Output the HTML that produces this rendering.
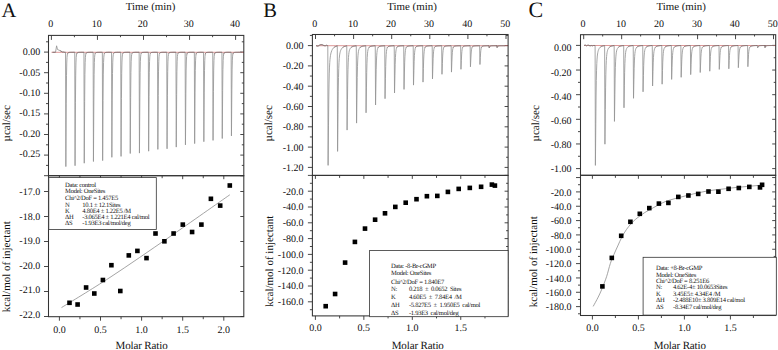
<!DOCTYPE html>
<html><head><meta charset="utf-8"><style>
html,body{margin:0;padding:0;background:#fff;}
svg{display:block;}
text{font-family:"Liberation Serif",serif;fill:#111;white-space:pre;stroke:none;text-rendering:geometricPrecision;}
</style></head><body>
<svg width="778" height="350" viewBox="0 0 778 350">
<rect width="778" height="350" fill="#fff"/>
<text x="1.4" y="17.1" font-size="20.5" text-anchor="start" >A</text>
<text x="150.6" y="9.6" font-size="10.9" text-anchor="middle" >Time (min)</text>
<line x1="51.4" y1="35.4" x2="51.4" y2="39.9" stroke="#333" stroke-width="0.9" />
<text x="50.7" y="27.2" font-size="10" text-anchor="middle" >0</text>
<line x1="74.42" y1="35.4" x2="74.42" y2="37.2" stroke="#333" stroke-width="0.9" />
<line x1="97.45" y1="35.4" x2="97.45" y2="39.9" stroke="#333" stroke-width="0.9" />
<text x="96.75" y="27.2" font-size="10" text-anchor="middle" >10</text>
<line x1="120.47" y1="35.4" x2="120.47" y2="37.2" stroke="#333" stroke-width="0.9" />
<line x1="143.5" y1="35.4" x2="143.5" y2="39.9" stroke="#333" stroke-width="0.9" />
<text x="142.8" y="27.2" font-size="10" text-anchor="middle" >20</text>
<line x1="166.53" y1="35.4" x2="166.53" y2="37.2" stroke="#333" stroke-width="0.9" />
<line x1="189.55" y1="35.4" x2="189.55" y2="39.9" stroke="#333" stroke-width="0.9" />
<text x="188.85" y="27.2" font-size="10" text-anchor="middle" >30</text>
<line x1="212.58" y1="35.4" x2="212.58" y2="37.2" stroke="#333" stroke-width="0.9" />
<line x1="235.6" y1="35.4" x2="235.6" y2="39.9" stroke="#333" stroke-width="0.9" />
<text x="234.9" y="27.2" font-size="10" text-anchor="middle" >40</text>
<line x1="44" y1="52.1" x2="48.5" y2="52.1" stroke="#333" stroke-width="0.9" />
<line x1="240.3" y1="52.1" x2="243.8" y2="52.1" stroke="#333" stroke-width="0.9" />
<text x="40.2" y="55.3" font-size="10" text-anchor="end" >0.00</text>
<line x1="44" y1="72.7" x2="48.5" y2="72.7" stroke="#333" stroke-width="0.9" />
<line x1="240.3" y1="72.7" x2="243.8" y2="72.7" stroke="#333" stroke-width="0.9" />
<text x="40.2" y="75.64" font-size="10" text-anchor="end" >-0.05</text>
<line x1="44" y1="93.3" x2="48.5" y2="93.3" stroke="#333" stroke-width="0.9" />
<line x1="240.3" y1="93.3" x2="243.8" y2="93.3" stroke="#333" stroke-width="0.9" />
<text x="40.2" y="95.98" font-size="10" text-anchor="end" >-0.10</text>
<line x1="44" y1="113.9" x2="48.5" y2="113.9" stroke="#333" stroke-width="0.9" />
<line x1="240.3" y1="113.9" x2="243.8" y2="113.9" stroke="#333" stroke-width="0.9" />
<text x="40.2" y="116.32" font-size="10" text-anchor="end" >-0.15</text>
<line x1="44" y1="134.5" x2="48.5" y2="134.5" stroke="#333" stroke-width="0.9" />
<line x1="240.3" y1="134.5" x2="243.8" y2="134.5" stroke="#333" stroke-width="0.9" />
<text x="40.2" y="136.66" font-size="10" text-anchor="end" >-0.20</text>
<line x1="44" y1="155.1" x2="48.5" y2="155.1" stroke="#333" stroke-width="0.9" />
<line x1="240.3" y1="155.1" x2="243.8" y2="155.1" stroke="#333" stroke-width="0.9" />
<text x="40.2" y="157" font-size="10" text-anchor="end" >-0.25</text>
<line x1="44" y1="175.7" x2="48.5" y2="175.7" stroke="#333" stroke-width="0.9" />
<line x1="240.3" y1="175.7" x2="243.8" y2="175.7" stroke="#333" stroke-width="0.9" />
<line x1="46" y1="41.8" x2="48.5" y2="41.8" stroke="#333" stroke-width="0.9" />
<line x1="241.8" y1="41.8" x2="243.8" y2="41.8" stroke="#333" stroke-width="0.9" />
<line x1="46" y1="62.4" x2="48.5" y2="62.4" stroke="#333" stroke-width="0.9" />
<line x1="241.8" y1="62.4" x2="243.8" y2="62.4" stroke="#333" stroke-width="0.9" />
<line x1="46" y1="83" x2="48.5" y2="83" stroke="#333" stroke-width="0.9" />
<line x1="241.8" y1="83" x2="243.8" y2="83" stroke="#333" stroke-width="0.9" />
<line x1="46" y1="103.6" x2="48.5" y2="103.6" stroke="#333" stroke-width="0.9" />
<line x1="241.8" y1="103.6" x2="243.8" y2="103.6" stroke="#333" stroke-width="0.9" />
<line x1="46" y1="124.2" x2="48.5" y2="124.2" stroke="#333" stroke-width="0.9" />
<line x1="241.8" y1="124.2" x2="243.8" y2="124.2" stroke="#333" stroke-width="0.9" />
<line x1="46" y1="144.8" x2="48.5" y2="144.8" stroke="#333" stroke-width="0.9" />
<line x1="241.8" y1="144.8" x2="243.8" y2="144.8" stroke="#333" stroke-width="0.9" />
<line x1="46" y1="165.4" x2="48.5" y2="165.4" stroke="#333" stroke-width="0.9" />
<line x1="241.8" y1="165.4" x2="243.8" y2="165.4" stroke="#333" stroke-width="0.9" />
<line x1="51.5" y1="52.3" x2="243.8" y2="52.3" stroke="#d06a6a" stroke-width="0.7" />
<path d="M52.5,52.3 L55.5,52.3 L56.6,45.8 L57.5,49.5 L60,50.6 L62.5,52 L63.7,52.04 L64.9,52.34 L65.55,52.3 L65.85,166.6 L66.25,103.15 L66.5,75.32 L66.75,63.02 L67,57.52 L67.25,55 L67.5,53.81 L67.75,53.22 L68,52.91 L68.25,52.72 L68.5,52.61 L68.75,52.53 L69,52.48 L69.6,52.39 L70.2,52.35 L70.8,52.33 L71.4,52.32 L72,52.31 L72.6,52.3 L73.2,52.3 L73.8,52.3 L74.75,52.3 L75.05,165.7 L75.45,102.75 L75.7,75.14 L75.95,62.94 L76.2,57.48 L76.45,54.98 L76.7,53.8 L76.95,53.21 L77.2,52.9 L77.45,52.72 L77.7,52.61 L77.95,52.53 L78.2,52.47 L78.8,52.39 L79.4,52.35 L80,52.33 L80.6,52.32 L81.2,52.31 L81.8,52.3 L82.4,52.3 L83,52.3 L83.95,52.3 L84.25,163.2 L84.65,101.64 L84.9,74.64 L85.15,62.7 L85.4,57.36 L85.65,54.92 L85.9,53.77 L86.15,53.19 L86.4,52.89 L86.65,52.71 L86.9,52.6 L87.15,52.52 L87.4,52.47 L88,52.39 L88.6,52.35 L89.2,52.33 L89.8,52.32 L90.4,52.31 L91,52.3 L91.6,52.3 L92.2,52.3 L93.15,52.3 L93.45,161.5 L93.85,100.89 L94.1,74.29 L94.35,62.54 L94.6,57.28 L94.85,54.88 L95.1,53.74 L95.35,53.18 L95.6,52.88 L95.85,52.7 L96.1,52.59 L96.35,52.52 L96.6,52.47 L97.2,52.39 L97.8,52.35 L98.4,52.33 L99,52.31 L99.6,52.31 L100.2,52.3 L100.8,52.3 L101.4,52.3 L102.35,52.3 L102.65,160.6 L103.05,100.49 L103.3,74.11 L103.55,62.46 L103.8,57.24 L104.05,54.86 L104.3,53.73 L104.55,53.17 L104.8,52.87 L105.05,52.7 L105.3,52.59 L105.55,52.52 L105.8,52.47 L106.4,52.39 L107,52.35 L107.6,52.33 L108.2,52.31 L108.8,52.31 L109.4,52.3 L110,52.3 L110.6,52.3 L111.55,52.3 L111.85,157.3 L112.25,99.02 L112.5,73.45 L112.75,62.15 L113,57.09 L113.25,54.78 L113.5,53.69 L113.75,53.15 L114,52.86 L114.25,52.69 L114.5,52.58 L114.75,52.51 L115,52.46 L115.6,52.39 L116.2,52.35 L116.8,52.33 L117.4,52.31 L118,52.31 L118.6,52.3 L119.2,52.3 L119.8,52.3 L120.75,52.3 L121.05,156.4 L121.45,98.62 L121.7,73.27 L121.95,62.06 L122.2,57.05 L122.45,54.76 L122.7,53.68 L122.95,53.14 L123.2,52.85 L123.45,52.69 L123.7,52.58 L123.95,52.51 L124.2,52.46 L124.8,52.39 L125.4,52.35 L126,52.33 L126.6,52.31 L127.2,52.31 L127.8,52.3 L128.4,52.3 L129,52.3 L129.95,52.3 L130.25,153.5 L130.65,97.33 L130.9,72.68 L131.15,61.79 L131.4,56.92 L131.65,54.69 L131.9,53.64 L132.15,53.12 L132.4,52.84 L132.65,52.67 L132.9,52.57 L133.15,52.5 L133.4,52.46 L134,52.38 L134.6,52.35 L135.2,52.32 L135.8,52.31 L136.4,52.31 L137,52.3 L137.6,52.3 L138.2,52.3 L139.15,52.3 L139.45,153.1 L139.85,97.15 L140.1,72.6 L140.35,61.75 L140.6,56.9 L140.85,54.68 L141.1,53.63 L141.35,53.11 L141.6,52.83 L141.85,52.67 L142.1,52.57 L142.35,52.5 L142.6,52.45 L143.2,52.38 L143.8,52.35 L144.4,52.32 L145,52.31 L145.6,52.31 L146.2,52.3 L146.8,52.3 L147.4,52.3 L148.35,52.3 L148.65,151.2 L149.05,96.3 L149.3,72.22 L149.55,61.58 L149.8,56.81 L150.05,54.64 L150.3,53.61 L150.55,53.1 L150.8,52.82 L151.05,52.67 L151.3,52.57 L151.55,52.5 L151.8,52.45 L152.4,52.38 L153,52.34 L153.6,52.32 L154.2,52.31 L154.8,52.31 L155.4,52.3 L156,52.3 L156.6,52.3 L157.55,52.3 L157.85,149.4 L158.25,95.5 L158.5,71.86 L158.75,61.41 L159,56.73 L159.25,54.59 L159.5,53.58 L159.75,53.08 L160,52.81 L160.25,52.66 L160.5,52.56 L160.75,52.5 L161,52.45 L161.6,52.38 L162.2,52.34 L162.8,52.32 L163.4,52.31 L164,52.31 L164.6,52.3 L165.2,52.3 L165.8,52.3 L166.75,52.3 L167.05,148.8 L167.45,95.24 L167.7,71.74 L167.95,61.35 L168.2,56.7 L168.45,54.58 L168.7,53.58 L168.95,53.08 L169.2,52.81 L169.45,52.66 L169.7,52.56 L169.95,52.49 L170.2,52.45 L170.8,52.38 L171.4,52.34 L172,52.32 L172.6,52.31 L173.2,52.31 L173.8,52.3 L174.4,52.3 L175,52.3 L175.95,52.3 L176.25,147.1 L176.65,94.48 L176.9,71.39 L177.15,61.19 L177.4,56.63 L177.65,54.54 L177.9,53.55 L178.15,53.06 L178.4,52.8 L178.65,52.65 L178.9,52.56 L179.15,52.49 L179.4,52.45 L180,52.38 L180.6,52.34 L181.2,52.32 L181.8,52.31 L182.4,52.31 L183,52.3 L183.6,52.3 L184.2,52.3 L185.15,52.3 L185.45,144.9 L185.85,93.5 L186.1,70.95 L186.35,60.99 L186.6,56.53 L186.85,54.49 L187.1,53.53 L187.35,53.05 L187.6,52.79 L187.85,52.64 L188.1,52.55 L188.35,52.49 L188.6,52.44 L189.2,52.38 L189.8,52.34 L190.4,52.32 L191,52.31 L191.6,52.31 L192.2,52.3 L192.8,52.3 L193.4,52.3 L194.35,52.3 L194.65,143.6 L195.05,92.92 L195.3,70.69 L195.55,60.86 L195.8,56.47 L196.05,54.46 L196.3,53.51 L196.55,53.04 L196.8,52.78 L197.05,52.64 L197.3,52.55 L197.55,52.48 L197.8,52.44 L198.4,52.38 L199,52.34 L199.6,52.32 L200.2,52.31 L200.8,52.31 L201.4,52.3 L202,52.3 L202.6,52.3 L203.55,52.3 L203.85,141.7 L204.25,92.08 L204.5,70.31 L204.75,60.69 L205,56.38 L205.25,54.41 L205.5,53.48 L205.75,53.02 L206,52.77 L206.25,52.63 L206.5,52.54 L206.75,52.48 L207,52.44 L207.6,52.37 L208.2,52.34 L208.8,52.32 L209.4,52.31 L210,52.31 L210.6,52.3 L211.2,52.3 L211.8,52.3 L212.75,52.3 L213.05,140.4 L213.45,91.5 L213.7,70.04 L213.95,60.56 L214.2,56.32 L214.45,54.38 L214.7,53.47 L214.95,53.01 L215.2,52.77 L215.45,52.63 L215.7,52.54 L215.95,52.48 L216.2,52.44 L216.8,52.37 L217.4,52.34 L218,52.32 L218.6,52.31 L219.2,52.31 L219.8,52.3 L220.4,52.3 L221,52.3 L221.95,52.3 L222.25,138.5 L222.65,90.65 L222.9,69.66 L223.15,60.38 L223.4,56.23 L223.65,54.34 L223.9,53.44 L224.15,52.99 L224.4,52.76 L224.65,52.62 L224.9,52.53 L225.15,52.47 L225.4,52.43 L226,52.37 L226.6,52.34 L227.2,52.32 L227.8,52.31 L228.4,52.31 L229,52.3 L229.6,52.3 L230.2,52.3 L231.15,52.3 L231.45,135.9 L231.85,89.5 L232.1,69.14 L232.35,60.14 L232.6,56.12 L232.85,54.28 L233.1,53.41 L233.35,52.97 L233.6,52.74 L233.85,52.61 L234.1,52.53 L234.35,52.47 L234.6,52.43 L235.2,52.37 L235.8,52.34 L236.4,52.32 L237,52.31 L237.6,52.31 L238.2,52.3 L238.8,52.3 L239.4,52.3 L240.6,52.17 L241.8,52.4" fill="none" stroke="#959595" stroke-width="0.85" stroke-linejoin="round"/>
<path d="M52.5,52.3 L55.5,52.3 M60,50.6 L62.5,52 L63.7,52.04 L64.9,52.34 L65.55,52.3 M67.5,53.81 L67.75,53.22 L68,52.91 L68.25,52.72 L68.5,52.61 L68.75,52.53 L69,52.48 L69.6,52.39 L70.2,52.35 L70.8,52.33 L71.4,52.32 L72,52.31 L72.6,52.3 L73.2,52.3 L73.8,52.3 L74.75,52.3 M76.7,53.8 L76.95,53.21 L77.2,52.9 L77.45,52.72 L77.7,52.61 L77.95,52.53 L78.2,52.47 L78.8,52.39 L79.4,52.35 L80,52.33 L80.6,52.32 L81.2,52.31 L81.8,52.3 L82.4,52.3 L83,52.3 L83.95,52.3 M85.9,53.77 L86.15,53.19 L86.4,52.89 L86.65,52.71 L86.9,52.6 L87.15,52.52 L87.4,52.47 L88,52.39 L88.6,52.35 L89.2,52.33 L89.8,52.32 L90.4,52.31 L91,52.3 L91.6,52.3 L92.2,52.3 L93.15,52.3 M95.1,53.74 L95.35,53.18 L95.6,52.88 L95.85,52.7 L96.1,52.59 L96.35,52.52 L96.6,52.47 L97.2,52.39 L97.8,52.35 L98.4,52.33 L99,52.31 L99.6,52.31 L100.2,52.3 L100.8,52.3 L101.4,52.3 L102.35,52.3 M104.3,53.73 L104.55,53.17 L104.8,52.87 L105.05,52.7 L105.3,52.59 L105.55,52.52 L105.8,52.47 L106.4,52.39 L107,52.35 L107.6,52.33 L108.2,52.31 L108.8,52.31 L109.4,52.3 L110,52.3 L110.6,52.3 L111.55,52.3 M113.5,53.69 L113.75,53.15 L114,52.86 L114.25,52.69 L114.5,52.58 L114.75,52.51 L115,52.46 L115.6,52.39 L116.2,52.35 L116.8,52.33 L117.4,52.31 L118,52.31 L118.6,52.3 L119.2,52.3 L119.8,52.3 L120.75,52.3 M122.7,53.68 L122.95,53.14 L123.2,52.85 L123.45,52.69 L123.7,52.58 L123.95,52.51 L124.2,52.46 L124.8,52.39 L125.4,52.35 L126,52.33 L126.6,52.31 L127.2,52.31 L127.8,52.3 L128.4,52.3 L129,52.3 L129.95,52.3 M131.9,53.64 L132.15,53.12 L132.4,52.84 L132.65,52.67 L132.9,52.57 L133.15,52.5 L133.4,52.46 L134,52.38 L134.6,52.35 L135.2,52.32 L135.8,52.31 L136.4,52.31 L137,52.3 L137.6,52.3 L138.2,52.3 L139.15,52.3 M141.1,53.63 L141.35,53.11 L141.6,52.83 L141.85,52.67 L142.1,52.57 L142.35,52.5 L142.6,52.45 L143.2,52.38 L143.8,52.35 L144.4,52.32 L145,52.31 L145.6,52.31 L146.2,52.3 L146.8,52.3 L147.4,52.3 L148.35,52.3 M150.3,53.61 L150.55,53.1 L150.8,52.82 L151.05,52.67 L151.3,52.57 L151.55,52.5 L151.8,52.45 L152.4,52.38 L153,52.34 L153.6,52.32 L154.2,52.31 L154.8,52.31 L155.4,52.3 L156,52.3 L156.6,52.3 L157.55,52.3 M159.5,53.58 L159.75,53.08 L160,52.81 L160.25,52.66 L160.5,52.56 L160.75,52.5 L161,52.45 L161.6,52.38 L162.2,52.34 L162.8,52.32 L163.4,52.31 L164,52.31 L164.6,52.3 L165.2,52.3 L165.8,52.3 L166.75,52.3 M168.7,53.58 L168.95,53.08 L169.2,52.81 L169.45,52.66 L169.7,52.56 L169.95,52.49 L170.2,52.45 L170.8,52.38 L171.4,52.34 L172,52.32 L172.6,52.31 L173.2,52.31 L173.8,52.3 L174.4,52.3 L175,52.3 L175.95,52.3 M177.9,53.55 L178.15,53.06 L178.4,52.8 L178.65,52.65 L178.9,52.56 L179.15,52.49 L179.4,52.45 L180,52.38 L180.6,52.34 L181.2,52.32 L181.8,52.31 L182.4,52.31 L183,52.3 L183.6,52.3 L184.2,52.3 L185.15,52.3 M186.85,54.49 L187.1,53.53 L187.35,53.05 L187.6,52.79 L187.85,52.64 L188.1,52.55 L188.35,52.49 L188.6,52.44 L189.2,52.38 L189.8,52.34 L190.4,52.32 L191,52.31 L191.6,52.31 L192.2,52.3 L192.8,52.3 L193.4,52.3 L194.35,52.3 M196.05,54.46 L196.3,53.51 L196.55,53.04 L196.8,52.78 L197.05,52.64 L197.3,52.55 L197.55,52.48 L197.8,52.44 L198.4,52.38 L199,52.34 L199.6,52.32 L200.2,52.31 L200.8,52.31 L201.4,52.3 L202,52.3 L202.6,52.3 L203.55,52.3 M205.25,54.41 L205.5,53.48 L205.75,53.02 L206,52.77 L206.25,52.63 L206.5,52.54 L206.75,52.48 L207,52.44 L207.6,52.37 L208.2,52.34 L208.8,52.32 L209.4,52.31 L210,52.31 L210.6,52.3 L211.2,52.3 L211.8,52.3 L212.75,52.3 M214.45,54.38 L214.7,53.47 L214.95,53.01 L215.2,52.77 L215.45,52.63 L215.7,52.54 L215.95,52.48 L216.2,52.44 L216.8,52.37 L217.4,52.34 L218,52.32 L218.6,52.31 L219.2,52.31 L219.8,52.3 L220.4,52.3 L221,52.3 L221.95,52.3 M223.65,54.34 L223.9,53.44 L224.15,52.99 L224.4,52.76 L224.65,52.62 L224.9,52.53 L225.15,52.47 L225.4,52.43 L226,52.37 L226.6,52.34 L227.2,52.32 L227.8,52.31 L228.4,52.31 L229,52.3 L229.6,52.3 L230.2,52.3 L231.15,52.3 M232.85,54.28 L233.1,53.41 L233.35,52.97 L233.6,52.74 L233.85,52.61 L234.1,52.53 L234.35,52.47 L234.6,52.43 L235.2,52.37 L235.8,52.34 L236.4,52.32 L237,52.31 L237.6,52.31 L238.2,52.3 L238.8,52.3 L239.4,52.3 L240.6,52.17 L241.8,52.4" fill="none" stroke="#7a5c5c" stroke-width="0.55" stroke-linejoin="round"/>
<line x1="44" y1="191.5" x2="48.5" y2="191.5" stroke="#333" stroke-width="0.9" />
<line x1="240.3" y1="191.5" x2="243.8" y2="191.5" stroke="#333" stroke-width="0.9" />
<text x="40.2" y="194.9" font-size="10" text-anchor="end" >-17.0</text>
<line x1="44" y1="216.5" x2="48.5" y2="216.5" stroke="#333" stroke-width="0.9" />
<line x1="240.3" y1="216.5" x2="243.8" y2="216.5" stroke="#333" stroke-width="0.9" />
<text x="40.2" y="219.52" font-size="10" text-anchor="end" >-18.0</text>
<line x1="44" y1="241.5" x2="48.5" y2="241.5" stroke="#333" stroke-width="0.9" />
<line x1="240.3" y1="241.5" x2="243.8" y2="241.5" stroke="#333" stroke-width="0.9" />
<text x="40.2" y="244.14" font-size="10" text-anchor="end" >-19.0</text>
<line x1="44" y1="266.5" x2="48.5" y2="266.5" stroke="#333" stroke-width="0.9" />
<line x1="240.3" y1="266.5" x2="243.8" y2="266.5" stroke="#333" stroke-width="0.9" />
<text x="40.2" y="268.76" font-size="10" text-anchor="end" >-20.0</text>
<line x1="44" y1="291.5" x2="48.5" y2="291.5" stroke="#333" stroke-width="0.9" />
<line x1="240.3" y1="291.5" x2="243.8" y2="291.5" stroke="#333" stroke-width="0.9" />
<text x="40.2" y="293.38" font-size="10" text-anchor="end" >-21.0</text>
<line x1="44" y1="316.5" x2="48.5" y2="316.5" stroke="#333" stroke-width="0.9" />
<line x1="240.3" y1="316.5" x2="243.8" y2="316.5" stroke="#333" stroke-width="0.9" />
<text x="40.2" y="318" font-size="10" text-anchor="end" >-22.0</text>
<line x1="59.4" y1="316.7" x2="59.4" y2="320.7" stroke="#333" stroke-width="0.9" />
<line x1="59.4" y1="175.7" x2="59.4" y2="179.2" stroke="#333" stroke-width="0.9" />
<text x="59.4" y="332.6" font-size="10" text-anchor="middle" >0.0</text>
<line x1="79.95" y1="316.7" x2="79.95" y2="319.2" stroke="#333" stroke-width="0.9" />
<line x1="79.95" y1="175.7" x2="79.95" y2="178.2" stroke="#333" stroke-width="0.9" />
<line x1="100.5" y1="316.7" x2="100.5" y2="320.7" stroke="#333" stroke-width="0.9" />
<line x1="100.5" y1="175.7" x2="100.5" y2="179.2" stroke="#333" stroke-width="0.9" />
<text x="100.5" y="332.6" font-size="10" text-anchor="middle" >0.5</text>
<line x1="121.05" y1="316.7" x2="121.05" y2="319.2" stroke="#333" stroke-width="0.9" />
<line x1="121.05" y1="175.7" x2="121.05" y2="178.2" stroke="#333" stroke-width="0.9" />
<line x1="141.6" y1="316.7" x2="141.6" y2="320.7" stroke="#333" stroke-width="0.9" />
<line x1="141.6" y1="175.7" x2="141.6" y2="179.2" stroke="#333" stroke-width="0.9" />
<text x="141.6" y="332.6" font-size="10" text-anchor="middle" >1.0</text>
<line x1="162.15" y1="316.7" x2="162.15" y2="319.2" stroke="#333" stroke-width="0.9" />
<line x1="162.15" y1="175.7" x2="162.15" y2="178.2" stroke="#333" stroke-width="0.9" />
<line x1="182.7" y1="316.7" x2="182.7" y2="320.7" stroke="#333" stroke-width="0.9" />
<line x1="182.7" y1="175.7" x2="182.7" y2="179.2" stroke="#333" stroke-width="0.9" />
<text x="182.7" y="332.6" font-size="10" text-anchor="middle" >1.5</text>
<line x1="203.25" y1="316.7" x2="203.25" y2="319.2" stroke="#333" stroke-width="0.9" />
<line x1="203.25" y1="175.7" x2="203.25" y2="178.2" stroke="#333" stroke-width="0.9" />
<line x1="223.8" y1="316.7" x2="223.8" y2="320.7" stroke="#333" stroke-width="0.9" />
<line x1="223.8" y1="175.7" x2="223.8" y2="179.2" stroke="#333" stroke-width="0.9" />
<text x="223.8" y="332.6" font-size="10" text-anchor="middle" >2.0</text>
<path d="M61.5,307.6 C69.58,302.57 91.92,289.23 110,277.4 C128.08,265.57 150.03,250.37 170,236.6 C189.97,222.83 219.83,201.77 229.8,194.8" fill="none" stroke="#858585" stroke-width="0.75"/>
<rect x="67.2" y="300.5" width="4.6" height="4.6" fill="#000"/>
<rect x="75.3" y="302.2" width="4.6" height="4.6" fill="#000"/>
<rect x="83.8" y="285.2" width="4.6" height="4.6" fill="#000"/>
<rect x="92" y="291.2" width="4.6" height="4.6" fill="#000"/>
<rect x="100.6" y="277.7" width="4.6" height="4.6" fill="#000"/>
<rect x="109.1" y="262.9" width="4.6" height="4.6" fill="#000"/>
<rect x="118" y="288.7" width="4.6" height="4.6" fill="#000"/>
<rect x="126.5" y="253.1" width="4.6" height="4.6" fill="#000"/>
<rect x="135.1" y="248.6" width="4.6" height="4.6" fill="#000"/>
<rect x="144.2" y="255.8" width="4.6" height="4.6" fill="#000"/>
<rect x="153.2" y="231.2" width="4.6" height="4.6" fill="#000"/>
<rect x="162.1" y="239" width="4.6" height="4.6" fill="#000"/>
<rect x="171.3" y="231.2" width="4.6" height="4.6" fill="#000"/>
<rect x="180.5" y="222.3" width="4.6" height="4.6" fill="#000"/>
<rect x="189.8" y="229.7" width="4.6" height="4.6" fill="#000"/>
<rect x="199.1" y="222.3" width="4.6" height="4.6" fill="#000"/>
<rect x="208.6" y="196.5" width="4.6" height="4.6" fill="#000"/>
<rect x="217.9" y="203.3" width="4.6" height="4.6" fill="#000"/>
<rect x="227.5" y="183.2" width="4.6" height="4.6" fill="#000"/>
<rect x="48.5" y="35.4" width="195.3" height="140.3" fill="none" stroke="#333" stroke-width="1.05"/>
<rect x="48.5" y="175.7" width="195.3" height="141" fill="none" stroke="#333" stroke-width="1.05"/>
<rect x="48.8" y="177.6" width="107.5" height="51.8" fill="#fff" stroke="#333" stroke-width="0.8"/>
<text x="65.1" y="186.6" font-size="6.6" text-anchor="start" letter-spacing="-0.3">Data: control</text>
<text x="65.1" y="193" font-size="6.6" text-anchor="start" letter-spacing="-0.3">Model: OneSites</text>
<text x="65.1" y="199.8" font-size="6.6" text-anchor="start" letter-spacing="-0.3">Chi^2/DoF = 1.457E5</text>
<text x="65.1" y="206.6" font-size="6.6" text-anchor="start" letter-spacing="-0.3">N</text>
<text x="82.3" y="206.6" font-size="6.6" text-anchor="start" letter-spacing="-0.3">10.1 ± 12.1Sites</text>
<text x="65.1" y="212.6" font-size="6.6" text-anchor="start" letter-spacing="-0.3">K</text>
<text x="82.3" y="212.6" font-size="6.6" text-anchor="start" letter-spacing="-0.3">4.80E4 ± 1.22E5 /M</text>
<text x="65.1" y="218.6" font-size="6.6" text-anchor="start" letter-spacing="-0.3">ΔH</text>
<text x="82.3" y="218.6" font-size="6.6" text-anchor="start" letter-spacing="-0.3">-3.065E4 ± 1.221E4 cal/mol</text>
<text x="65.1" y="224.6" font-size="6.6" text-anchor="start" letter-spacing="-0.3">ΔS</text>
<text x="82.3" y="224.6" font-size="6.6" text-anchor="start" letter-spacing="-0.3">-1.93E3 cal/mol/deg</text>
<text x="115.5" y="348.5" font-size="11" text-anchor="start" letter-spacing="-0.13">Molar Ratio</text>
<text x="9.8" y="123.3" font-size="11" text-anchor="middle" transform="rotate(-90 9.8 123.3)">µcal/sec</text>
<text x="10.3" y="266.7" font-size="11" text-anchor="middle" transform="rotate(-90 10.3 266.7)">kcal/mol of injectant</text>
<text x="263.3" y="17.1" font-size="20.5" text-anchor="start" >B</text>
<text x="412" y="9.6" font-size="10.9" text-anchor="middle" >Time (min)</text>
<line x1="315.5" y1="34.5" x2="315.5" y2="39" stroke="#333" stroke-width="0.9" />
<text x="314.8" y="27.2" font-size="10" text-anchor="middle" >0</text>
<line x1="334.55" y1="34.5" x2="334.55" y2="36.3" stroke="#333" stroke-width="0.9" />
<line x1="353.6" y1="34.5" x2="353.6" y2="39" stroke="#333" stroke-width="0.9" />
<text x="352.9" y="27.2" font-size="10" text-anchor="middle" >10</text>
<line x1="372.65" y1="34.5" x2="372.65" y2="36.3" stroke="#333" stroke-width="0.9" />
<line x1="391.7" y1="34.5" x2="391.7" y2="39" stroke="#333" stroke-width="0.9" />
<text x="391" y="27.2" font-size="10" text-anchor="middle" >20</text>
<line x1="410.75" y1="34.5" x2="410.75" y2="36.3" stroke="#333" stroke-width="0.9" />
<line x1="429.8" y1="34.5" x2="429.8" y2="39" stroke="#333" stroke-width="0.9" />
<text x="429.1" y="27.2" font-size="10" text-anchor="middle" >30</text>
<line x1="448.85" y1="34.5" x2="448.85" y2="36.3" stroke="#333" stroke-width="0.9" />
<line x1="467.9" y1="34.5" x2="467.9" y2="39" stroke="#333" stroke-width="0.9" />
<text x="467.2" y="27.2" font-size="10" text-anchor="middle" >40</text>
<line x1="486.95" y1="34.5" x2="486.95" y2="36.3" stroke="#333" stroke-width="0.9" />
<line x1="506" y1="34.5" x2="506" y2="39" stroke="#333" stroke-width="0.9" />
<text x="505.3" y="27.2" font-size="10" text-anchor="middle" >50</text>
<line x1="307.9" y1="45.6" x2="312.4" y2="45.6" stroke="#333" stroke-width="0.9" />
<line x1="504.6" y1="45.6" x2="508.1" y2="45.6" stroke="#333" stroke-width="0.9" />
<text x="303.6" y="49" font-size="10" text-anchor="end" >0.00</text>
<line x1="307.9" y1="65.9" x2="312.4" y2="65.9" stroke="#333" stroke-width="0.9" />
<line x1="504.6" y1="65.9" x2="508.1" y2="65.9" stroke="#333" stroke-width="0.9" />
<text x="303.6" y="69.3" font-size="10" text-anchor="end" >-0.20</text>
<line x1="307.9" y1="86.2" x2="312.4" y2="86.2" stroke="#333" stroke-width="0.9" />
<line x1="504.6" y1="86.2" x2="508.1" y2="86.2" stroke="#333" stroke-width="0.9" />
<text x="303.6" y="89.6" font-size="10" text-anchor="end" >-0.40</text>
<line x1="307.9" y1="106.5" x2="312.4" y2="106.5" stroke="#333" stroke-width="0.9" />
<line x1="504.6" y1="106.5" x2="508.1" y2="106.5" stroke="#333" stroke-width="0.9" />
<text x="303.6" y="109.9" font-size="10" text-anchor="end" >-0.60</text>
<line x1="307.9" y1="126.8" x2="312.4" y2="126.8" stroke="#333" stroke-width="0.9" />
<line x1="504.6" y1="126.8" x2="508.1" y2="126.8" stroke="#333" stroke-width="0.9" />
<text x="303.6" y="130.2" font-size="10" text-anchor="end" >-0.80</text>
<line x1="307.9" y1="147.1" x2="312.4" y2="147.1" stroke="#333" stroke-width="0.9" />
<line x1="504.6" y1="147.1" x2="508.1" y2="147.1" stroke="#333" stroke-width="0.9" />
<text x="303.6" y="150.5" font-size="10" text-anchor="end" >-1.00</text>
<line x1="307.9" y1="167.4" x2="312.4" y2="167.4" stroke="#333" stroke-width="0.9" />
<line x1="504.6" y1="167.4" x2="508.1" y2="167.4" stroke="#333" stroke-width="0.9" />
<text x="303.6" y="170.8" font-size="10" text-anchor="end" >-1.20</text>
<line x1="309.9" y1="35.45" x2="312.4" y2="35.45" stroke="#333" stroke-width="0.9" />
<line x1="506.1" y1="35.45" x2="508.1" y2="35.45" stroke="#333" stroke-width="0.9" />
<line x1="309.9" y1="55.75" x2="312.4" y2="55.75" stroke="#333" stroke-width="0.9" />
<line x1="506.1" y1="55.75" x2="508.1" y2="55.75" stroke="#333" stroke-width="0.9" />
<line x1="309.9" y1="76.05" x2="312.4" y2="76.05" stroke="#333" stroke-width="0.9" />
<line x1="506.1" y1="76.05" x2="508.1" y2="76.05" stroke="#333" stroke-width="0.9" />
<line x1="309.9" y1="96.35" x2="312.4" y2="96.35" stroke="#333" stroke-width="0.9" />
<line x1="506.1" y1="96.35" x2="508.1" y2="96.35" stroke="#333" stroke-width="0.9" />
<line x1="309.9" y1="116.65" x2="312.4" y2="116.65" stroke="#333" stroke-width="0.9" />
<line x1="506.1" y1="116.65" x2="508.1" y2="116.65" stroke="#333" stroke-width="0.9" />
<line x1="309.9" y1="136.95" x2="312.4" y2="136.95" stroke="#333" stroke-width="0.9" />
<line x1="506.1" y1="136.95" x2="508.1" y2="136.95" stroke="#333" stroke-width="0.9" />
<line x1="309.9" y1="157.25" x2="312.4" y2="157.25" stroke="#333" stroke-width="0.9" />
<line x1="506.1" y1="157.25" x2="508.1" y2="157.25" stroke="#333" stroke-width="0.9" />
<line x1="316" y1="45.7" x2="508.1" y2="45.7" stroke="#d06a6a" stroke-width="0.7" />
<path d="M316,45.7 L318,46.2 L320,44.8 L322,44.6 L324,45.6 L325.2,45.83 L326.4,45.27 L327.8,45.7 L328.1,165.4 L328.5,125.15 L328.75,100 L329,84.09 L329.25,73.86 L329.5,67.12 L329.75,62.57 L330,59.4 L330.25,57.1 L330.5,55.37 L330.75,54.03 L331,52.95 L331.25,52.06 L331.85,50.43 L332.45,49.27 L333.05,48.41 L333.65,47.76 L334.25,47.27 L334.85,46.89 L335.45,46.61 L336.05,46.39 L337.29,45.7 L337.59,151.4 L337.99,114.65 L338.24,91.84 L338.49,77.54 L338.74,68.45 L338.99,62.57 L339.24,58.67 L339.49,56.01 L339.74,54.14 L339.99,52.77 L340.24,51.73 L340.49,50.91 L340.74,50.24 L341.34,49.06 L341.94,48.23 L342.54,47.61 L343.14,47.15 L343.74,46.81 L344.34,46.54 L344.94,46.34 L345.54,46.19 L346.78,45.7 L347.08,130.1 L347.48,99.79 L347.73,81.09 L347.98,69.47 L348.23,62.18 L348.48,57.53 L348.73,54.52 L348.98,52.51 L349.23,51.14 L349.48,50.17 L349.73,49.45 L349.98,48.91 L350.23,48.47 L350.83,47.73 L351.43,47.22 L352.03,46.85 L352.63,46.57 L353.23,46.36 L353.83,46.2 L354.43,46.08 L355.03,45.99 L356.27,45.7 L356.57,123.1 L356.97,94.86 L357.22,77.49 L357.47,66.75 L357.72,60.04 L357.97,55.8 L358.22,53.08 L358.47,51.3 L358.72,50.09 L358.97,49.26 L359.22,48.65 L359.47,48.2 L359.72,47.85 L360.32,47.26 L360.92,46.86 L361.52,46.58 L362.12,46.37 L362.72,46.21 L363.32,46.09 L363.92,45.99 L364.52,45.92 L365.76,45.7 L366.06,112.8 L366.46,87.93 L366.71,72.69 L366.96,63.29 L367.21,57.46 L367.46,53.81 L367.71,51.49 L367.96,49.99 L368.21,48.99 L368.46,48.32 L368.71,47.84 L368.96,47.49 L369.21,47.23 L369.81,46.79 L370.41,46.51 L371.01,46.31 L371.61,46.16 L372.21,46.05 L372.81,45.97 L373.41,45.9 L374.01,45.85 L375.25,45.7 L375.55,105 L375.95,82.85 L376.2,69.3 L376.45,60.96 L376.7,55.8 L376.95,52.58 L377.2,50.54 L377.45,49.24 L377.7,48.38 L377.95,47.81 L378.2,47.4 L378.45,47.11 L378.7,46.9 L379.3,46.55 L379.9,46.33 L380.5,46.17 L381.1,46.06 L381.7,45.97 L382.3,45.91 L382.9,45.86 L383.5,45.82 L384.74,45.7 L385.04,98.7 L385.44,78.76 L385.69,66.56 L385.94,59.08 L386.19,54.46 L386.44,51.59 L386.69,49.79 L386.94,48.64 L387.19,47.89 L387.44,47.4 L387.69,47.06 L387.94,46.81 L388.19,46.64 L388.79,46.36 L389.39,46.18 L389.99,46.06 L390.59,45.97 L391.19,45.91 L391.79,45.86 L392.39,45.82 L392.99,45.79 L394.23,45.7 L394.53,93 L394.93,75.2 L395.18,64.32 L395.43,57.64 L395.68,53.52 L395.93,50.96 L396.18,49.35 L396.43,48.32 L396.68,47.66 L396.93,47.21 L397.18,46.91 L397.43,46.69 L397.68,46.54 L398.28,46.29 L398.88,46.13 L399.48,46.02 L400.08,45.94 L400.68,45.89 L401.28,45.84 L401.88,45.81 L402.48,45.78 L403.72,45.7 L404.02,89.4 L404.42,72.96 L404.67,62.9 L404.92,56.73 L405.17,52.92 L405.42,50.56 L405.67,49.07 L405.92,48.12 L406.17,47.51 L406.42,47.1 L406.67,46.82 L406.92,46.62 L407.17,46.47 L407.77,46.24 L408.37,46.1 L408.97,46 L409.57,45.93 L410.17,45.87 L410.77,45.83 L411.37,45.8 L411.97,45.78 L413.21,45.7 L413.51,85.1 L413.91,70.27 L414.16,61.21 L414.41,55.64 L414.66,52.21 L414.91,50.08 L415.16,48.74 L415.41,47.89 L415.66,47.33 L415.91,46.96 L416.16,46.71 L416.41,46.53 L416.66,46.4 L417.26,46.19 L417.86,46.06 L418.46,45.97 L419.06,45.9 L419.66,45.85 L420.26,45.82 L420.86,45.79 L421.46,45.77 L422.7,45.7 L423,82.1 L423.4,68.4 L423.65,60.03 L423.9,54.89 L424.15,51.72 L424.4,49.75 L424.65,48.51 L424.9,47.72 L425.15,47.21 L425.4,46.87 L425.65,46.63 L425.9,46.47 L426.15,46.34 L426.75,46.15 L427.35,46.03 L427.95,45.95 L428.55,45.89 L429.15,45.84 L429.75,45.81 L430.35,45.78 L430.95,45.76 L432.19,45.7 L432.49,78.9 L432.89,66.41 L433.14,58.77 L433.39,54.08 L433.64,51.19 L433.89,49.39 L434.14,48.26 L434.39,47.54 L434.64,47.07 L434.89,46.76 L435.14,46.55 L435.39,46.4 L435.64,46.29 L436.24,46.11 L436.84,46 L437.44,45.93 L438.04,45.87 L438.64,45.83 L439.24,45.8 L439.84,45.78 L440.44,45.76 L441.68,45.7 L441.98,74.3 L442.38,63.54 L442.63,56.96 L442.88,52.92 L443.13,50.43 L443.38,48.88 L443.63,47.91 L443.88,47.29 L444.13,46.88 L444.38,46.62 L444.63,46.43 L444.88,46.3 L445.13,46.21 L445.73,46.05 L446.33,45.96 L446.93,45.9 L447.53,45.85 L448.13,45.81 L448.73,45.79 L449.33,45.77 L449.93,45.75 L451.17,45.7 L451.47,72.1 L451.87,62.17 L452.12,56.09 L452.37,52.36 L452.62,50.06 L452.87,48.63 L453.12,47.74 L453.37,47.16 L453.62,46.79 L453.87,46.55 L454.12,46.38 L454.37,46.26 L454.62,46.17 L455.22,46.03 L455.82,45.94 L456.42,45.88 L457.02,45.84 L457.62,45.8 L458.22,45.78 L458.82,45.76 L459.42,45.75 L460.66,45.7 L460.96,69.3 L461.36,60.42 L461.61,54.99 L461.86,51.66 L462.11,49.6 L462.36,48.32 L462.61,47.52 L462.86,47.01 L463.11,46.68 L463.36,46.46 L463.61,46.3 L463.86,46.2 L464.11,46.12 L464.71,45.99 L465.31,45.91 L465.91,45.86 L466.51,45.82 L467.11,45.79 L467.71,45.77 L468.31,45.75 L468.91,45.74 L470.15,45.7 L470.45,66.8 L470.85,58.86 L471.1,54.01 L471.35,51.03 L471.6,49.19 L471.85,48.05 L472.1,47.33 L472.35,46.87 L472.6,46.57 L472.85,46.38 L473.1,46.24 L473.35,46.14 L473.6,46.07 L474.2,45.96 L474.8,45.89 L475.4,45.84 L476,45.81 L476.6,45.78 L477.2,45.76 L477.8,45.75 L478.4,45.74 L479.64,45.7 L479.94,64.5 L480.34,57.43 L480.59,53.1 L480.84,50.45 L481.09,48.81 L481.34,47.79 L481.59,47.15 L481.84,46.74 L482.09,46.48 L482.34,46.3 L482.59,46.18 L482.84,46.1 L483.09,46.03 L483.69,45.93 L484.29,45.87 L484.89,45.83 L485.49,45.8 L486.09,45.77 L486.69,45.76 L487.29,45.74 L487.89,45.73 L488.9,45.7 L489.2,47.8 L489.6,47.01 L489.85,46.53 L490.1,46.23 L490.35,46.05 L490.6,45.93 L490.85,45.86 L491.1,45.82 L491.35,45.79 L491.6,45.77 L491.85,45.75 L492.1,45.74 L492.35,45.74 L492.95,45.73 L493.55,45.72 L494.15,45.71 L494.75,45.71 L495.35,45.71 L495.95,45.71 L496.55,45.7 L497.15,45.7 L496.8,45.7 L497.1,47.6 L497.5,46.89 L497.75,46.45 L498,46.18 L498.25,46.01 L498.5,45.91 L498.75,45.85 L499,45.81 L499.25,45.78 L499.5,45.76 L499.75,45.75 L500,45.74 L500.25,45.73 L500.85,45.72 L501.45,45.72 L502.05,45.71 L502.65,45.71 L503.25,45.71 L503.85,45.71 L504.45,45.7 L505.05,45.7" fill="none" stroke="#959595" stroke-width="0.85" stroke-linejoin="round"/>
<path d="M316,45.7 L318,46.2 L320,44.8 L322,44.6 L324,45.6 L325.2,45.83 L326.4,45.27 L327.8,45.7 M333.65,47.76 L334.25,47.27 L334.85,46.89 L335.45,46.61 L336.05,46.39 L337.29,45.7 M342.54,47.61 L343.14,47.15 L343.74,46.81 L344.34,46.54 L344.94,46.34 L345.54,46.19 L346.78,45.7 M350.83,47.73 L351.43,47.22 L352.03,46.85 L352.63,46.57 L353.23,46.36 L353.83,46.2 L354.43,46.08 L355.03,45.99 L356.27,45.7 M359.72,47.85 L360.32,47.26 L360.92,46.86 L361.52,46.58 L362.12,46.37 L362.72,46.21 L363.32,46.09 L363.92,45.99 L364.52,45.92 L365.76,45.7 M368.71,47.84 L368.96,47.49 L369.21,47.23 L369.81,46.79 L370.41,46.51 L371.01,46.31 L371.61,46.16 L372.21,46.05 L372.81,45.97 L373.41,45.9 L374.01,45.85 L375.25,45.7 M377.95,47.81 L378.2,47.4 L378.45,47.11 L378.7,46.9 L379.3,46.55 L379.9,46.33 L380.5,46.17 L381.1,46.06 L381.7,45.97 L382.3,45.91 L382.9,45.86 L383.5,45.82 L384.74,45.7 M387.19,47.89 L387.44,47.4 L387.69,47.06 L387.94,46.81 L388.19,46.64 L388.79,46.36 L389.39,46.18 L389.99,46.06 L390.59,45.97 L391.19,45.91 L391.79,45.86 L392.39,45.82 L392.99,45.79 L394.23,45.7 M396.68,47.66 L396.93,47.21 L397.18,46.91 L397.43,46.69 L397.68,46.54 L398.28,46.29 L398.88,46.13 L399.48,46.02 L400.08,45.94 L400.68,45.89 L401.28,45.84 L401.88,45.81 L402.48,45.78 L403.72,45.7 M406.17,47.51 L406.42,47.1 L406.67,46.82 L406.92,46.62 L407.17,46.47 L407.77,46.24 L408.37,46.1 L408.97,46 L409.57,45.93 L410.17,45.87 L410.77,45.83 L411.37,45.8 L411.97,45.78 L413.21,45.7 M415.41,47.89 L415.66,47.33 L415.91,46.96 L416.16,46.71 L416.41,46.53 L416.66,46.4 L417.26,46.19 L417.86,46.06 L418.46,45.97 L419.06,45.9 L419.66,45.85 L420.26,45.82 L420.86,45.79 L421.46,45.77 L422.7,45.7 M424.9,47.72 L425.15,47.21 L425.4,46.87 L425.65,46.63 L425.9,46.47 L426.15,46.34 L426.75,46.15 L427.35,46.03 L427.95,45.95 L428.55,45.89 L429.15,45.84 L429.75,45.81 L430.35,45.78 L430.95,45.76 L432.19,45.7 M434.39,47.54 L434.64,47.07 L434.89,46.76 L435.14,46.55 L435.39,46.4 L435.64,46.29 L436.24,46.11 L436.84,46 L437.44,45.93 L438.04,45.87 L438.64,45.83 L439.24,45.8 L439.84,45.78 L440.44,45.76 L441.68,45.7 M443.88,47.29 L444.13,46.88 L444.38,46.62 L444.63,46.43 L444.88,46.3 L445.13,46.21 L445.73,46.05 L446.33,45.96 L446.93,45.9 L447.53,45.85 L448.13,45.81 L448.73,45.79 L449.33,45.77 L449.93,45.75 L451.17,45.7 M453.12,47.74 L453.37,47.16 L453.62,46.79 L453.87,46.55 L454.12,46.38 L454.37,46.26 L454.62,46.17 L455.22,46.03 L455.82,45.94 L456.42,45.88 L457.02,45.84 L457.62,45.8 L458.22,45.78 L458.82,45.76 L459.42,45.75 L460.66,45.7 M462.61,47.52 L462.86,47.01 L463.11,46.68 L463.36,46.46 L463.61,46.3 L463.86,46.2 L464.11,46.12 L464.71,45.99 L465.31,45.91 L465.91,45.86 L466.51,45.82 L467.11,45.79 L467.71,45.77 L468.31,45.75 L468.91,45.74 L470.15,45.7 M472.1,47.33 L472.35,46.87 L472.6,46.57 L472.85,46.38 L473.1,46.24 L473.35,46.14 L473.6,46.07 L474.2,45.96 L474.8,45.89 L475.4,45.84 L476,45.81 L476.6,45.78 L477.2,45.76 L477.8,45.75 L478.4,45.74 L479.64,45.7 M481.34,47.79 L481.59,47.15 L481.84,46.74 L482.09,46.48 L482.34,46.3 L482.59,46.18 L482.84,46.1 L483.09,46.03 L483.69,45.93 L484.29,45.87 L484.89,45.83 L485.49,45.8 L486.09,45.77 L486.69,45.76 L487.29,45.74 L487.89,45.73 L488.9,45.7 L489.2,47.8 L489.6,47.01 L489.85,46.53 L490.1,46.23 L490.35,46.05 L490.6,45.93 L490.85,45.86 L491.1,45.82 L491.35,45.79 L491.6,45.77 L491.85,45.75 L492.1,45.74 L492.35,45.74 L492.95,45.73 L493.55,45.72 L494.15,45.71 L494.75,45.71 L495.35,45.71 L495.95,45.71 L496.55,45.7 L497.15,45.7 L496.8,45.7 L497.1,47.6 L497.5,46.89 L497.75,46.45 L498,46.18 L498.25,46.01 L498.5,45.91 L498.75,45.85 L499,45.81 L499.25,45.78 L499.5,45.76 L499.75,45.75 L500,45.74 L500.25,45.73 L500.85,45.72 L501.45,45.72 L502.05,45.71 L502.65,45.71 L503.25,45.71 L503.85,45.71 L504.45,45.7 L505.05,45.7" fill="none" stroke="#7a5c5c" stroke-width="0.55" stroke-linejoin="round"/>
<line x1="307.9" y1="175.4" x2="312.4" y2="175.4" stroke="#333" stroke-width="0.9" />
<line x1="504.6" y1="175.4" x2="508.1" y2="175.4" stroke="#333" stroke-width="0.9" />
<line x1="307.9" y1="191.2" x2="312.4" y2="191.2" stroke="#333" stroke-width="0.9" />
<line x1="504.6" y1="191.2" x2="508.1" y2="191.2" stroke="#333" stroke-width="0.9" />
<text x="303.6" y="194.6" font-size="10" text-anchor="end" >-20.0</text>
<line x1="307.9" y1="207" x2="312.4" y2="207" stroke="#333" stroke-width="0.9" />
<line x1="504.6" y1="207" x2="508.1" y2="207" stroke="#333" stroke-width="0.9" />
<text x="303.6" y="210.4" font-size="10" text-anchor="end" >-40.0</text>
<line x1="307.9" y1="222.8" x2="312.4" y2="222.8" stroke="#333" stroke-width="0.9" />
<line x1="504.6" y1="222.8" x2="508.1" y2="222.8" stroke="#333" stroke-width="0.9" />
<text x="303.6" y="226.2" font-size="10" text-anchor="end" >-60.0</text>
<line x1="307.9" y1="238.6" x2="312.4" y2="238.6" stroke="#333" stroke-width="0.9" />
<line x1="504.6" y1="238.6" x2="508.1" y2="238.6" stroke="#333" stroke-width="0.9" />
<text x="303.6" y="242" font-size="10" text-anchor="end" >-80.0</text>
<line x1="307.9" y1="254.4" x2="312.4" y2="254.4" stroke="#333" stroke-width="0.9" />
<line x1="504.6" y1="254.4" x2="508.1" y2="254.4" stroke="#333" stroke-width="0.9" />
<text x="303.6" y="257.8" font-size="10" text-anchor="end" >-100.0</text>
<line x1="307.9" y1="270.2" x2="312.4" y2="270.2" stroke="#333" stroke-width="0.9" />
<line x1="504.6" y1="270.2" x2="508.1" y2="270.2" stroke="#333" stroke-width="0.9" />
<text x="303.6" y="273.6" font-size="10" text-anchor="end" >-120.0</text>
<line x1="307.9" y1="286" x2="312.4" y2="286" stroke="#333" stroke-width="0.9" />
<line x1="504.6" y1="286" x2="508.1" y2="286" stroke="#333" stroke-width="0.9" />
<text x="303.6" y="289.4" font-size="10" text-anchor="end" >-140.0</text>
<line x1="307.9" y1="301.8" x2="312.4" y2="301.8" stroke="#333" stroke-width="0.9" />
<line x1="504.6" y1="301.8" x2="508.1" y2="301.8" stroke="#333" stroke-width="0.9" />
<text x="303.6" y="305.2" font-size="10" text-anchor="end" >-160.0</text>
<line x1="309.9" y1="183.3" x2="312.4" y2="183.3" stroke="#333" stroke-width="0.9" />
<line x1="506.1" y1="183.3" x2="508.1" y2="183.3" stroke="#333" stroke-width="0.9" />
<line x1="309.9" y1="199.1" x2="312.4" y2="199.1" stroke="#333" stroke-width="0.9" />
<line x1="506.1" y1="199.1" x2="508.1" y2="199.1" stroke="#333" stroke-width="0.9" />
<line x1="309.9" y1="214.9" x2="312.4" y2="214.9" stroke="#333" stroke-width="0.9" />
<line x1="506.1" y1="214.9" x2="508.1" y2="214.9" stroke="#333" stroke-width="0.9" />
<line x1="309.9" y1="230.7" x2="312.4" y2="230.7" stroke="#333" stroke-width="0.9" />
<line x1="506.1" y1="230.7" x2="508.1" y2="230.7" stroke="#333" stroke-width="0.9" />
<line x1="309.9" y1="246.5" x2="312.4" y2="246.5" stroke="#333" stroke-width="0.9" />
<line x1="506.1" y1="246.5" x2="508.1" y2="246.5" stroke="#333" stroke-width="0.9" />
<line x1="309.9" y1="262.3" x2="312.4" y2="262.3" stroke="#333" stroke-width="0.9" />
<line x1="506.1" y1="262.3" x2="508.1" y2="262.3" stroke="#333" stroke-width="0.9" />
<line x1="309.9" y1="278.1" x2="312.4" y2="278.1" stroke="#333" stroke-width="0.9" />
<line x1="506.1" y1="278.1" x2="508.1" y2="278.1" stroke="#333" stroke-width="0.9" />
<line x1="309.9" y1="293.9" x2="312.4" y2="293.9" stroke="#333" stroke-width="0.9" />
<line x1="506.1" y1="293.9" x2="508.1" y2="293.9" stroke="#333" stroke-width="0.9" />
<line x1="309.9" y1="309.7" x2="312.4" y2="309.7" stroke="#333" stroke-width="0.9" />
<line x1="506.1" y1="309.7" x2="508.1" y2="309.7" stroke="#333" stroke-width="0.9" />
<line x1="315.4" y1="315.9" x2="315.4" y2="319.9" stroke="#333" stroke-width="0.9" />
<line x1="315.4" y1="175.4" x2="315.4" y2="178.9" stroke="#333" stroke-width="0.9" />
<text x="315.4" y="330.6" font-size="10" text-anchor="middle" >0.0</text>
<line x1="339.62" y1="315.9" x2="339.62" y2="318.4" stroke="#333" stroke-width="0.9" />
<line x1="339.62" y1="175.4" x2="339.62" y2="177.9" stroke="#333" stroke-width="0.9" />
<line x1="363.85" y1="315.9" x2="363.85" y2="319.9" stroke="#333" stroke-width="0.9" />
<line x1="363.85" y1="175.4" x2="363.85" y2="178.9" stroke="#333" stroke-width="0.9" />
<text x="363.85" y="330.6" font-size="10" text-anchor="middle" >0.5</text>
<line x1="388.07" y1="315.9" x2="388.07" y2="318.4" stroke="#333" stroke-width="0.9" />
<line x1="388.07" y1="175.4" x2="388.07" y2="177.9" stroke="#333" stroke-width="0.9" />
<line x1="412.3" y1="315.9" x2="412.3" y2="319.9" stroke="#333" stroke-width="0.9" />
<line x1="412.3" y1="175.4" x2="412.3" y2="178.9" stroke="#333" stroke-width="0.9" />
<text x="412.3" y="330.6" font-size="10" text-anchor="middle" >1.0</text>
<line x1="436.52" y1="315.9" x2="436.52" y2="318.4" stroke="#333" stroke-width="0.9" />
<line x1="436.52" y1="175.4" x2="436.52" y2="177.9" stroke="#333" stroke-width="0.9" />
<line x1="460.75" y1="315.9" x2="460.75" y2="319.9" stroke="#333" stroke-width="0.9" />
<line x1="460.75" y1="175.4" x2="460.75" y2="178.9" stroke="#333" stroke-width="0.9" />
<text x="460.75" y="330.6" font-size="10" text-anchor="middle" >1.5</text>
<line x1="484.98" y1="315.9" x2="484.98" y2="318.4" stroke="#333" stroke-width="0.9" />
<line x1="484.98" y1="175.4" x2="484.98" y2="177.9" stroke="#333" stroke-width="0.9" />
<rect x="323.4" y="303.9" width="4.6" height="4.6" fill="#000"/>
<rect x="332.8" y="291.7" width="4.6" height="4.6" fill="#000"/>
<rect x="342.8" y="260.3" width="4.6" height="4.6" fill="#000"/>
<rect x="352.6" y="239.6" width="4.6" height="4.6" fill="#000"/>
<rect x="362.7" y="226.3" width="4.6" height="4.6" fill="#000"/>
<rect x="372.8" y="217.4" width="4.6" height="4.6" fill="#000"/>
<rect x="382.7" y="211" width="4.6" height="4.6" fill="#000"/>
<rect x="393" y="204.6" width="4.6" height="4.6" fill="#000"/>
<rect x="403.4" y="200.4" width="4.6" height="4.6" fill="#000"/>
<rect x="414.2" y="196.9" width="4.6" height="4.6" fill="#000"/>
<rect x="424.6" y="193.9" width="4.6" height="4.6" fill="#000"/>
<rect x="435" y="193.6" width="4.6" height="4.6" fill="#000"/>
<rect x="445.6" y="189.6" width="4.6" height="4.6" fill="#000"/>
<rect x="456.4" y="186.6" width="4.6" height="4.6" fill="#000"/>
<rect x="467.5" y="185.6" width="4.6" height="4.6" fill="#000"/>
<rect x="478.8" y="184.5" width="4.6" height="4.6" fill="#000"/>
<rect x="489.6" y="182.3" width="4.6" height="4.6" fill="#000"/>
<rect x="492.6" y="183.3" width="4.6" height="4.6" fill="#000"/>
<rect x="312.4" y="34.5" width="195.7" height="140.9" fill="none" stroke="#333" stroke-width="1.05"/>
<rect x="312.4" y="175.4" width="195.7" height="140.5" fill="none" stroke="#333" stroke-width="1.05"/>
<rect x="369.6" y="250.4" width="138.5" height="66.3" fill="#fff" stroke="#333" stroke-width="0.8"/>
<text x="391.1" y="268.1" font-size="6.6" text-anchor="start" letter-spacing="-0.3">Data: -8-Br-cGMP</text>
<text x="391.1" y="275.4" font-size="6.6" text-anchor="start" letter-spacing="-0.3">Model: OneSites</text>
<text x="391.1" y="283.6" font-size="6.6" text-anchor="start" letter-spacing="-0.3">Chi^2/DoF = 1.840E7</text>
<text x="391.1" y="291.1" font-size="6.6" text-anchor="start" letter-spacing="-0.3">N:</text>
<text x="408.9" y="291.1" font-size="6.6" text-anchor="start" letter-spacing="-0.3">0.218  ±  0.0652  Sites</text>
<text x="391.1" y="299" font-size="6.6" text-anchor="start" letter-spacing="-0.3">K</text>
<text x="408.9" y="299" font-size="6.6" text-anchor="start" letter-spacing="-0.3">4.60E5  ±  7.84E4  /M</text>
<text x="391.1" y="306.7" font-size="6.6" text-anchor="start" letter-spacing="-0.3">ΔH</text>
<text x="408.9" y="306.7" font-size="6.6" text-anchor="start" letter-spacing="-0.3">-5.827E5  ±  1.950E5  cal/mol</text>
<text x="391.1" y="314.6" font-size="6.6" text-anchor="start" letter-spacing="-0.3">ΔS</text>
<text x="408.9" y="314.6" font-size="6.6" text-anchor="start" letter-spacing="-0.3">-1.93E3  cal/mol/deg</text>
<text x="391.7" y="348.5" font-size="11" text-anchor="start" letter-spacing="-0.13">Molar Ratio</text>
<text x="272.2" y="123.3" font-size="11" text-anchor="middle" transform="rotate(-90 272.2 123.3)">µcal/sec</text>
<text x="273.3" y="261.3" font-size="11" text-anchor="middle" transform="rotate(-90 273.3 261.3)">kcal/mol of injectant</text>
<text x="528.6" y="17.1" font-size="22" text-anchor="start" >C</text>
<text x="681.2" y="9.6" font-size="10.9" text-anchor="middle" >Time (min)</text>
<line x1="583.7" y1="34.7" x2="583.7" y2="39.2" stroke="#333" stroke-width="0.9" />
<text x="583" y="27.2" font-size="10" text-anchor="middle" >0</text>
<line x1="602.68" y1="34.7" x2="602.68" y2="36.5" stroke="#333" stroke-width="0.9" />
<line x1="621.66" y1="34.7" x2="621.66" y2="39.2" stroke="#333" stroke-width="0.9" />
<text x="620.96" y="27.2" font-size="10" text-anchor="middle" >10</text>
<line x1="640.64" y1="34.7" x2="640.64" y2="36.5" stroke="#333" stroke-width="0.9" />
<line x1="659.62" y1="34.7" x2="659.62" y2="39.2" stroke="#333" stroke-width="0.9" />
<text x="658.92" y="27.2" font-size="10" text-anchor="middle" >20</text>
<line x1="678.6" y1="34.7" x2="678.6" y2="36.5" stroke="#333" stroke-width="0.9" />
<line x1="697.58" y1="34.7" x2="697.58" y2="39.2" stroke="#333" stroke-width="0.9" />
<text x="696.88" y="27.2" font-size="10" text-anchor="middle" >30</text>
<line x1="716.56" y1="34.7" x2="716.56" y2="36.5" stroke="#333" stroke-width="0.9" />
<line x1="735.54" y1="34.7" x2="735.54" y2="39.2" stroke="#333" stroke-width="0.9" />
<text x="734.84" y="27.2" font-size="10" text-anchor="middle" >40</text>
<line x1="754.52" y1="34.7" x2="754.52" y2="36.5" stroke="#333" stroke-width="0.9" />
<line x1="773.5" y1="34.7" x2="773.5" y2="39.2" stroke="#333" stroke-width="0.9" />
<text x="772.8" y="27.2" font-size="10" text-anchor="middle" >50</text>
<line x1="576" y1="45.4" x2="580.5" y2="45.4" stroke="#333" stroke-width="0.9" />
<line x1="772.2" y1="45.4" x2="775.7" y2="45.4" stroke="#333" stroke-width="0.9" />
<text x="571.5" y="51.3" font-size="10" text-anchor="end" >0.00</text>
<line x1="576" y1="70.04" x2="580.5" y2="70.04" stroke="#333" stroke-width="0.9" />
<line x1="772.2" y1="70.04" x2="775.7" y2="70.04" stroke="#333" stroke-width="0.9" />
<text x="571.5" y="75.5" font-size="10" text-anchor="end" >-0.20</text>
<line x1="576" y1="94.68" x2="580.5" y2="94.68" stroke="#333" stroke-width="0.9" />
<line x1="772.2" y1="94.68" x2="775.7" y2="94.68" stroke="#333" stroke-width="0.9" />
<text x="571.5" y="99.7" font-size="10" text-anchor="end" >-0.40</text>
<line x1="576" y1="119.32" x2="580.5" y2="119.32" stroke="#333" stroke-width="0.9" />
<line x1="772.2" y1="119.32" x2="775.7" y2="119.32" stroke="#333" stroke-width="0.9" />
<text x="571.5" y="123.9" font-size="10" text-anchor="end" >-0.60</text>
<line x1="576" y1="143.96" x2="580.5" y2="143.96" stroke="#333" stroke-width="0.9" />
<line x1="772.2" y1="143.96" x2="775.7" y2="143.96" stroke="#333" stroke-width="0.9" />
<text x="571.5" y="148.1" font-size="10" text-anchor="end" >-0.80</text>
<line x1="576" y1="168.6" x2="580.5" y2="168.6" stroke="#333" stroke-width="0.9" />
<line x1="772.2" y1="168.6" x2="775.7" y2="168.6" stroke="#333" stroke-width="0.9" />
<text x="571.5" y="172.3" font-size="10" text-anchor="end" >-1.00</text>
<line x1="578" y1="57.72" x2="580.5" y2="57.72" stroke="#333" stroke-width="0.9" />
<line x1="773.7" y1="57.72" x2="775.7" y2="57.72" stroke="#333" stroke-width="0.9" />
<line x1="578" y1="82.36" x2="580.5" y2="82.36" stroke="#333" stroke-width="0.9" />
<line x1="773.7" y1="82.36" x2="775.7" y2="82.36" stroke="#333" stroke-width="0.9" />
<line x1="578" y1="107" x2="580.5" y2="107" stroke="#333" stroke-width="0.9" />
<line x1="773.7" y1="107" x2="775.7" y2="107" stroke="#333" stroke-width="0.9" />
<line x1="578" y1="131.64" x2="580.5" y2="131.64" stroke="#333" stroke-width="0.9" />
<line x1="773.7" y1="131.64" x2="775.7" y2="131.64" stroke="#333" stroke-width="0.9" />
<line x1="578" y1="156.28" x2="580.5" y2="156.28" stroke="#333" stroke-width="0.9" />
<line x1="773.7" y1="156.28" x2="775.7" y2="156.28" stroke="#333" stroke-width="0.9" />
<line x1="584" y1="45.5" x2="775.7" y2="45.5" stroke="#d06a6a" stroke-width="0.7" />
<path d="M584,45.5 L585.2,45.01 L586.4,45.84 L587.6,45.26 L588.8,45.23 L590,46 L591.2,45.47 L592.4,45.84 L593.6,45.48 L595.1,45.5 L595.4,165.4 L595.8,123.19 L596.05,97 L596.3,80.6 L596.55,70.2 L596.8,63.49 L597.05,59.07 L597.3,56.07 L597.55,53.98 L597.8,52.47 L598.05,51.34 L598.3,50.46 L598.55,49.77 L599.15,48.55 L599.75,47.73 L600.35,47.14 L600.95,46.71 L601.55,46.4 L602.15,46.16 L602.75,45.99 L603.35,45.86 L604.63,45.5 L604.93,144.2 L605.33,109.45 L605.58,87.89 L605.83,74.39 L606.08,65.83 L606.33,60.31 L606.58,56.67 L606.83,54.21 L607.08,52.48 L607.33,51.24 L607.58,50.31 L607.83,49.59 L608.08,49.01 L608.68,48.01 L609.28,47.33 L609.88,46.85 L610.48,46.5 L611.08,46.24 L611.68,46.05 L612.28,45.9 L612.88,45.8 L614.16,45.5 L614.46,121.4 L614.86,94.68 L615.11,78.1 L615.36,67.72 L615.61,61.14 L615.86,56.89 L616.11,54.09 L616.36,52.19 L616.61,50.87 L616.86,49.91 L617.11,49.2 L617.36,48.64 L617.61,48.2 L618.21,47.43 L618.81,46.91 L619.41,46.54 L620.01,46.27 L620.61,46.07 L621.21,45.92 L621.81,45.81 L622.41,45.73 L623.69,45.5 L623.99,107.8 L624.39,85.87 L624.64,72.26 L624.89,63.74 L625.14,58.33 L625.39,54.85 L625.64,52.55 L625.89,50.99 L626.14,49.91 L626.39,49.12 L626.64,48.53 L626.89,48.08 L627.14,47.72 L627.74,47.08 L628.34,46.66 L628.94,46.35 L629.54,46.13 L630.14,45.97 L630.74,45.84 L631.34,45.76 L631.94,45.69 L633.22,45.5 L633.52,98.3 L633.92,79.71 L634.17,68.18 L634.42,60.96 L634.67,56.38 L634.92,53.42 L635.17,51.48 L635.42,50.16 L635.67,49.24 L635.92,48.57 L636.17,48.07 L636.42,47.69 L636.67,47.38 L637.27,46.84 L637.87,46.48 L638.47,46.22 L639.07,46.03 L639.67,45.89 L640.27,45.79 L640.87,45.72 L641.47,45.66 L642.75,45.5 L643.05,91.8 L643.45,75.5 L643.7,65.39 L643.95,59.05 L644.2,55.04 L644.45,52.45 L644.7,50.74 L644.95,49.58 L645.2,48.78 L645.45,48.19 L645.7,47.75 L645.95,47.42 L646.2,47.15 L646.8,46.68 L647.4,46.36 L648,46.13 L648.6,45.97 L649.2,45.85 L649.8,45.76 L650.4,45.69 L651,45.64 L652.28,45.5 L652.58,86 L652.98,71.74 L653.23,62.9 L653.48,57.36 L653.73,53.84 L653.98,51.58 L654.23,50.08 L654.48,49.07 L654.73,48.37 L654.98,47.85 L655.23,47.47 L655.48,47.18 L655.73,46.94 L656.33,46.53 L656.93,46.25 L657.53,46.05 L658.13,45.91 L658.73,45.8 L659.33,45.72 L659.93,45.67 L660.53,45.62 L661.81,45.5 L662.11,84.2 L662.51,70.57 L662.76,62.12 L663.01,56.83 L663.26,53.47 L663.51,51.31 L663.76,49.88 L664.01,48.91 L664.26,48.24 L664.51,47.75 L664.76,47.38 L665.01,47.1 L665.26,46.88 L665.86,46.48 L666.46,46.22 L667.06,46.03 L667.66,45.89 L668.26,45.79 L668.86,45.71 L669.46,45.66 L670.06,45.62 L671.34,45.5 L671.64,79.4 L672.04,67.46 L672.29,60.06 L672.54,55.42 L672.79,52.48 L673.04,50.59 L673.29,49.34 L673.54,48.49 L673.79,47.9 L674.04,47.47 L674.29,47.15 L674.54,46.9 L674.79,46.71 L675.39,46.36 L675.99,46.13 L676.59,45.96 L677.19,45.84 L677.79,45.75 L678.39,45.69 L678.99,45.64 L679.59,45.6 L680.87,45.5 L681.17,77.3 L681.57,66.1 L681.82,59.16 L682.07,54.81 L682.32,52.05 L682.57,50.27 L682.82,49.1 L683.07,48.3 L683.32,47.75 L683.57,47.35 L683.82,47.05 L684.07,46.82 L684.32,46.63 L684.92,46.31 L685.52,46.09 L686.12,45.93 L686.72,45.82 L687.32,45.74 L687.92,45.68 L688.52,45.63 L689.12,45.6 L690.4,45.5 L690.7,74.6 L691.1,64.35 L691.35,58 L691.6,54.02 L691.85,51.5 L692.1,49.87 L692.35,48.79 L692.6,48.07 L692.85,47.56 L693.1,47.19 L693.35,46.92 L693.6,46.7 L693.85,46.54 L694.45,46.24 L695.05,46.04 L695.65,45.9 L696.25,45.79 L696.85,45.72 L697.45,45.66 L698.05,45.62 L698.65,45.59 L699.93,45.5 L700.23,72.5 L700.63,62.99 L700.88,57.1 L701.13,53.4 L701.38,51.06 L701.63,49.55 L701.88,48.56 L702.13,47.88 L702.38,47.41 L702.63,47.07 L702.88,46.81 L703.13,46.62 L703.38,46.46 L703.98,46.19 L704.58,46 L705.18,45.87 L705.78,45.77 L706.38,45.7 L706.98,45.65 L707.58,45.61 L708.18,45.58 L709.46,45.5 L709.76,71.2 L710.16,62.15 L710.41,56.54 L710.66,53.02 L710.91,50.79 L711.16,49.36 L711.41,48.41 L711.66,47.77 L711.91,47.32 L712.16,46.99 L712.41,46.75 L712.66,46.56 L712.91,46.41 L713.51,46.15 L714.11,45.98 L714.71,45.85 L715.31,45.76 L715.91,45.69 L716.51,45.64 L717.11,45.61 L717.71,45.58 L718.99,45.5 L719.29,69.4 L719.69,60.99 L719.94,55.77 L720.19,52.5 L720.44,50.42 L720.69,49.09 L720.94,48.2 L721.19,47.61 L721.44,47.19 L721.69,46.89 L721.94,46.66 L722.19,46.49 L722.44,46.35 L723.04,46.11 L723.64,45.94 L724.24,45.83 L724.84,45.74 L725.44,45.68 L726.04,45.63 L726.64,45.6 L727.24,45.57 L728.52,45.5 L728.82,68.8 L729.22,60.6 L729.47,55.51 L729.72,52.32 L729.97,50.3 L730.22,49 L730.47,48.14 L730.72,47.55 L730.97,47.15 L731.22,46.85 L731.47,46.63 L731.72,46.46 L731.97,46.33 L732.57,46.09 L733.17,45.93 L733.77,45.82 L734.37,45.74 L734.97,45.67 L735.57,45.63 L736.17,45.6 L736.77,45.57 L738.05,45.5 L738.35,67.7 L738.75,59.88 L739,55.04 L739.25,52 L739.5,50.07 L739.75,48.83 L740,48.01 L740.25,47.46 L740.5,47.07 L740.75,46.79 L741,46.58 L741.25,46.42 L741.5,46.29 L742.1,46.06 L742.7,45.91 L743.3,45.8 L743.9,45.72 L744.5,45.67 L745.1,45.62 L745.7,45.59 L746.3,45.57 L747.58,45.5 L747.88,66.7 L748.28,59.24 L748.53,54.61 L748.78,51.71 L749.03,49.87 L749.28,48.68 L749.53,47.9 L749.78,47.37 L750.03,47 L750.28,46.73 L750.53,46.53 L750.78,46.38 L751.03,46.25 L751.63,46.04 L752.23,45.89 L752.83,45.79 L753.43,45.71 L754.03,45.66 L754.63,45.62 L755.23,45.59 L755.83,45.56 L757.3,45.5 L757.6,48 L758,47.12 L758.25,46.57 L758.5,46.23 L758.75,46.02 L759,45.88 L759.25,45.78 L759.5,45.72 L759.75,45.68 L760,45.65 L760.25,45.62 L760.5,45.6 L760.75,45.59 L761.35,45.56 L761.95,45.55 L762.55,45.53 L763.15,45.53 L763.75,45.52 L764.35,45.51 L764.95,45.51 L765.55,45.51 L764.7,45.5 L765,47.6 L765.4,46.86 L765.65,46.4 L765.9,46.11 L766.15,45.93 L766.4,45.82 L766.65,45.74 L766.9,45.69 L767.15,45.65 L767.4,45.62 L767.65,45.6 L767.9,45.59 L768.15,45.57 L768.75,45.55 L769.35,45.54 L769.95,45.53 L770.55,45.52 L771.15,45.52 L771.75,45.51 L772.35,45.51 L772.95,45.51 L774.15,45.64" fill="none" stroke="#959595" stroke-width="0.85" stroke-linejoin="round"/>
<path d="M584,45.5 L585.2,45.01 L586.4,45.84 L587.6,45.26 L588.8,45.23 L590,46 L591.2,45.47 L592.4,45.84 L593.6,45.48 L595.1,45.5 M600.35,47.14 L600.95,46.71 L601.55,46.4 L602.15,46.16 L602.75,45.99 L603.35,45.86 L604.63,45.5 M609.28,47.33 L609.88,46.85 L610.48,46.5 L611.08,46.24 L611.68,46.05 L612.28,45.9 L612.88,45.8 L614.16,45.5 M618.21,47.43 L618.81,46.91 L619.41,46.54 L620.01,46.27 L620.61,46.07 L621.21,45.92 L621.81,45.81 L622.41,45.73 L623.69,45.5 M627.74,47.08 L628.34,46.66 L628.94,46.35 L629.54,46.13 L630.14,45.97 L630.74,45.84 L631.34,45.76 L631.94,45.69 L633.22,45.5 M636.42,47.69 L636.67,47.38 L637.27,46.84 L637.87,46.48 L638.47,46.22 L639.07,46.03 L639.67,45.89 L640.27,45.79 L640.87,45.72 L641.47,45.66 L642.75,45.5 M645.95,47.42 L646.2,47.15 L646.8,46.68 L647.4,46.36 L648,46.13 L648.6,45.97 L649.2,45.85 L649.8,45.76 L650.4,45.69 L651,45.64 L652.28,45.5 M655.23,47.47 L655.48,47.18 L655.73,46.94 L656.33,46.53 L656.93,46.25 L657.53,46.05 L658.13,45.91 L658.73,45.8 L659.33,45.72 L659.93,45.67 L660.53,45.62 L661.81,45.5 M664.76,47.38 L665.01,47.1 L665.26,46.88 L665.86,46.48 L666.46,46.22 L667.06,46.03 L667.66,45.89 L668.26,45.79 L668.86,45.71 L669.46,45.66 L670.06,45.62 L671.34,45.5 M674.04,47.47 L674.29,47.15 L674.54,46.9 L674.79,46.71 L675.39,46.36 L675.99,46.13 L676.59,45.96 L677.19,45.84 L677.79,45.75 L678.39,45.69 L678.99,45.64 L679.59,45.6 L680.87,45.5 M683.57,47.35 L683.82,47.05 L684.07,46.82 L684.32,46.63 L684.92,46.31 L685.52,46.09 L686.12,45.93 L686.72,45.82 L687.32,45.74 L687.92,45.68 L688.52,45.63 L689.12,45.6 L690.4,45.5 M692.85,47.56 L693.1,47.19 L693.35,46.92 L693.6,46.7 L693.85,46.54 L694.45,46.24 L695.05,46.04 L695.65,45.9 L696.25,45.79 L696.85,45.72 L697.45,45.66 L698.05,45.62 L698.65,45.59 L699.93,45.5 M702.38,47.41 L702.63,47.07 L702.88,46.81 L703.13,46.62 L703.38,46.46 L703.98,46.19 L704.58,46 L705.18,45.87 L705.78,45.77 L706.38,45.7 L706.98,45.65 L707.58,45.61 L708.18,45.58 L709.46,45.5 M711.91,47.32 L712.16,46.99 L712.41,46.75 L712.66,46.56 L712.91,46.41 L713.51,46.15 L714.11,45.98 L714.71,45.85 L715.31,45.76 L715.91,45.69 L716.51,45.64 L717.11,45.61 L717.71,45.58 L718.99,45.5 M721.19,47.61 L721.44,47.19 L721.69,46.89 L721.94,46.66 L722.19,46.49 L722.44,46.35 L723.04,46.11 L723.64,45.94 L724.24,45.83 L724.84,45.74 L725.44,45.68 L726.04,45.63 L726.64,45.6 L727.24,45.57 L728.52,45.5 M730.72,47.55 L730.97,47.15 L731.22,46.85 L731.47,46.63 L731.72,46.46 L731.97,46.33 L732.57,46.09 L733.17,45.93 L733.77,45.82 L734.37,45.74 L734.97,45.67 L735.57,45.63 L736.17,45.6 L736.77,45.57 L738.05,45.5 M740.25,47.46 L740.5,47.07 L740.75,46.79 L741,46.58 L741.25,46.42 L741.5,46.29 L742.1,46.06 L742.7,45.91 L743.3,45.8 L743.9,45.72 L744.5,45.67 L745.1,45.62 L745.7,45.59 L746.3,45.57 L747.58,45.5 M749.78,47.37 L750.03,47 L750.28,46.73 L750.53,46.53 L750.78,46.38 L751.03,46.25 L751.63,46.04 L752.23,45.89 L752.83,45.79 L753.43,45.71 L754.03,45.66 L754.63,45.62 L755.23,45.59 L755.83,45.56 L757.3,45.5 M758,47.12 L758.25,46.57 L758.5,46.23 L758.75,46.02 L759,45.88 L759.25,45.78 L759.5,45.72 L759.75,45.68 L760,45.65 L760.25,45.62 L760.5,45.6 L760.75,45.59 L761.35,45.56 L761.95,45.55 L762.55,45.53 L763.15,45.53 L763.75,45.52 L764.35,45.51 L764.95,45.51 L765.55,45.51 L764.7,45.5 L765,47.6 L765.4,46.86 L765.65,46.4 L765.9,46.11 L766.15,45.93 L766.4,45.82 L766.65,45.74 L766.9,45.69 L767.15,45.65 L767.4,45.62 L767.65,45.6 L767.9,45.59 L768.15,45.57 L768.75,45.55 L769.35,45.54 L769.95,45.53 L770.55,45.52 L771.15,45.52 L771.75,45.51 L772.35,45.51 L772.95,45.51 L774.15,45.64" fill="none" stroke="#7a5c5c" stroke-width="0.55" stroke-linejoin="round"/>
<line x1="576" y1="177.56" x2="580.5" y2="177.56" stroke="#333" stroke-width="0.9" />
<line x1="772.2" y1="177.56" x2="775.7" y2="177.56" stroke="#333" stroke-width="0.9" />
<line x1="576" y1="191.9" x2="580.5" y2="191.9" stroke="#333" stroke-width="0.9" />
<line x1="772.2" y1="191.9" x2="775.7" y2="191.9" stroke="#333" stroke-width="0.9" />
<text x="571.5" y="195.7" font-size="10" text-anchor="end" >-20.0</text>
<line x1="576" y1="206.24" x2="580.5" y2="206.24" stroke="#333" stroke-width="0.9" />
<line x1="772.2" y1="206.24" x2="775.7" y2="206.24" stroke="#333" stroke-width="0.9" />
<text x="571.5" y="210.04" font-size="10" text-anchor="end" >-40.0</text>
<line x1="576" y1="220.58" x2="580.5" y2="220.58" stroke="#333" stroke-width="0.9" />
<line x1="772.2" y1="220.58" x2="775.7" y2="220.58" stroke="#333" stroke-width="0.9" />
<text x="571.5" y="224.38" font-size="10" text-anchor="end" >-60.0</text>
<line x1="576" y1="234.92" x2="580.5" y2="234.92" stroke="#333" stroke-width="0.9" />
<line x1="772.2" y1="234.92" x2="775.7" y2="234.92" stroke="#333" stroke-width="0.9" />
<text x="571.5" y="238.72" font-size="10" text-anchor="end" >-80.0</text>
<line x1="576" y1="249.26" x2="580.5" y2="249.26" stroke="#333" stroke-width="0.9" />
<line x1="772.2" y1="249.26" x2="775.7" y2="249.26" stroke="#333" stroke-width="0.9" />
<text x="571.5" y="253.06" font-size="10" text-anchor="end" >-100.0</text>
<line x1="576" y1="263.6" x2="580.5" y2="263.6" stroke="#333" stroke-width="0.9" />
<line x1="772.2" y1="263.6" x2="775.7" y2="263.6" stroke="#333" stroke-width="0.9" />
<text x="571.5" y="267.4" font-size="10" text-anchor="end" >-120.0</text>
<line x1="576" y1="277.94" x2="580.5" y2="277.94" stroke="#333" stroke-width="0.9" />
<line x1="772.2" y1="277.94" x2="775.7" y2="277.94" stroke="#333" stroke-width="0.9" />
<text x="571.5" y="281.74" font-size="10" text-anchor="end" >-140.0</text>
<line x1="576" y1="292.28" x2="580.5" y2="292.28" stroke="#333" stroke-width="0.9" />
<line x1="772.2" y1="292.28" x2="775.7" y2="292.28" stroke="#333" stroke-width="0.9" />
<text x="571.5" y="296.08" font-size="10" text-anchor="end" >-160.0</text>
<line x1="576" y1="306.62" x2="580.5" y2="306.62" stroke="#333" stroke-width="0.9" />
<line x1="772.2" y1="306.62" x2="775.7" y2="306.62" stroke="#333" stroke-width="0.9" />
<text x="571.5" y="310.42" font-size="10" text-anchor="end" >-180.0</text>
<line x1="578" y1="184.73" x2="580.5" y2="184.73" stroke="#333" stroke-width="0.9" />
<line x1="773.7" y1="184.73" x2="775.7" y2="184.73" stroke="#333" stroke-width="0.9" />
<line x1="578" y1="199.07" x2="580.5" y2="199.07" stroke="#333" stroke-width="0.9" />
<line x1="773.7" y1="199.07" x2="775.7" y2="199.07" stroke="#333" stroke-width="0.9" />
<line x1="578" y1="213.41" x2="580.5" y2="213.41" stroke="#333" stroke-width="0.9" />
<line x1="773.7" y1="213.41" x2="775.7" y2="213.41" stroke="#333" stroke-width="0.9" />
<line x1="578" y1="227.75" x2="580.5" y2="227.75" stroke="#333" stroke-width="0.9" />
<line x1="773.7" y1="227.75" x2="775.7" y2="227.75" stroke="#333" stroke-width="0.9" />
<line x1="578" y1="242.09" x2="580.5" y2="242.09" stroke="#333" stroke-width="0.9" />
<line x1="773.7" y1="242.09" x2="775.7" y2="242.09" stroke="#333" stroke-width="0.9" />
<line x1="578" y1="256.43" x2="580.5" y2="256.43" stroke="#333" stroke-width="0.9" />
<line x1="773.7" y1="256.43" x2="775.7" y2="256.43" stroke="#333" stroke-width="0.9" />
<line x1="578" y1="270.77" x2="580.5" y2="270.77" stroke="#333" stroke-width="0.9" />
<line x1="773.7" y1="270.77" x2="775.7" y2="270.77" stroke="#333" stroke-width="0.9" />
<line x1="578" y1="285.11" x2="580.5" y2="285.11" stroke="#333" stroke-width="0.9" />
<line x1="773.7" y1="285.11" x2="775.7" y2="285.11" stroke="#333" stroke-width="0.9" />
<line x1="578" y1="299.45" x2="580.5" y2="299.45" stroke="#333" stroke-width="0.9" />
<line x1="773.7" y1="299.45" x2="775.7" y2="299.45" stroke="#333" stroke-width="0.9" />
<line x1="578" y1="313.79" x2="580.5" y2="313.79" stroke="#333" stroke-width="0.9" />
<line x1="773.7" y1="313.79" x2="775.7" y2="313.79" stroke="#333" stroke-width="0.9" />
<line x1="592.4" y1="315.5" x2="592.4" y2="319.5" stroke="#333" stroke-width="0.9" />
<line x1="592.4" y1="175.3" x2="592.4" y2="178.8" stroke="#333" stroke-width="0.9" />
<text x="592.4" y="331.2" font-size="10" text-anchor="middle" >0.0</text>
<line x1="615.4" y1="315.5" x2="615.4" y2="318" stroke="#333" stroke-width="0.9" />
<line x1="615.4" y1="175.3" x2="615.4" y2="177.8" stroke="#333" stroke-width="0.9" />
<line x1="638.4" y1="315.5" x2="638.4" y2="319.5" stroke="#333" stroke-width="0.9" />
<line x1="638.4" y1="175.3" x2="638.4" y2="178.8" stroke="#333" stroke-width="0.9" />
<text x="638.4" y="331.2" font-size="10" text-anchor="middle" >0.5</text>
<line x1="661.4" y1="315.5" x2="661.4" y2="318" stroke="#333" stroke-width="0.9" />
<line x1="661.4" y1="175.3" x2="661.4" y2="177.8" stroke="#333" stroke-width="0.9" />
<line x1="684.4" y1="315.5" x2="684.4" y2="319.5" stroke="#333" stroke-width="0.9" />
<line x1="684.4" y1="175.3" x2="684.4" y2="178.8" stroke="#333" stroke-width="0.9" />
<text x="684.4" y="331.2" font-size="10" text-anchor="middle" >1.0</text>
<line x1="707.4" y1="315.5" x2="707.4" y2="318" stroke="#333" stroke-width="0.9" />
<line x1="707.4" y1="175.3" x2="707.4" y2="177.8" stroke="#333" stroke-width="0.9" />
<line x1="730.4" y1="315.5" x2="730.4" y2="319.5" stroke="#333" stroke-width="0.9" />
<line x1="730.4" y1="175.3" x2="730.4" y2="178.8" stroke="#333" stroke-width="0.9" />
<text x="730.4" y="331.2" font-size="10" text-anchor="middle" >1.5</text>
<line x1="753.4" y1="315.5" x2="753.4" y2="318" stroke="#333" stroke-width="0.9" />
<line x1="753.4" y1="175.3" x2="753.4" y2="177.8" stroke="#333" stroke-width="0.9" />
<path d="M593.2,306.4 C594.03,304.85 596.73,300.05 598.2,297.1 C599.67,294.15 600.6,292.12 602,288.7 C603.4,285.28 605.22,280.78 606.6,276.6 C607.98,272.42 609.07,267.32 610.3,263.6 C611.53,259.88 612.75,257.25 614,254.3 C615.25,251.35 616.48,248.78 617.8,245.9 C619.12,243.02 620.47,239.72 621.9,237 C623.33,234.28 624.88,231.8 626.4,229.6 C627.92,227.4 629.47,225.52 631,223.8 C632.53,222.08 634.08,220.63 635.6,219.3 C637.12,217.97 638.58,216.92 640.1,215.8 C641.62,214.68 643.17,213.57 644.7,212.6 C646.23,211.63 647.58,210.97 649.3,210 C651.02,209.03 652.38,208.18 655,206.8 C657.62,205.42 661.67,203.07 665,201.7 C668.33,200.33 671.67,199.55 675,198.6 C678.33,197.65 681.67,196.85 685,196 C688.33,195.15 691.67,194.27 695,193.5 C698.33,192.73 701.67,192 705,191.4 C708.33,190.8 712,190.3 715,189.9 C718,189.5 719.67,189.38 723,189 C726.33,188.62 730.5,188.07 735,187.6 C739.5,187.13 745.83,186.58 750,186.2 C754.17,185.82 758.33,185.45 760,185.3" fill="none" stroke="#858585" stroke-width="0.75"/>
<rect x="600.1" y="284.1" width="4.6" height="4.6" fill="#000"/>
<rect x="609.5" y="255.6" width="4.6" height="4.6" fill="#000"/>
<rect x="618.9" y="233.5" width="4.6" height="4.6" fill="#000"/>
<rect x="628.1" y="219.5" width="4.6" height="4.6" fill="#000"/>
<rect x="637.5" y="211.5" width="4.6" height="4.6" fill="#000"/>
<rect x="647" y="205.8" width="4.6" height="4.6" fill="#000"/>
<rect x="656.6" y="201.3" width="4.6" height="4.6" fill="#000"/>
<rect x="666.1" y="200.6" width="4.6" height="4.6" fill="#000"/>
<rect x="676" y="194.6" width="4.6" height="4.6" fill="#000"/>
<rect x="686.1" y="193.2" width="4.6" height="4.6" fill="#000"/>
<rect x="695.9" y="191.6" width="4.6" height="4.6" fill="#000"/>
<rect x="706.2" y="189.2" width="4.6" height="4.6" fill="#000"/>
<rect x="716.1" y="189.4" width="4.6" height="4.6" fill="#000"/>
<rect x="726.3" y="186.5" width="4.6" height="4.6" fill="#000"/>
<rect x="736.5" y="185.7" width="4.6" height="4.6" fill="#000"/>
<rect x="747" y="184.6" width="4.6" height="4.6" fill="#000"/>
<rect x="757.7" y="185.1" width="4.6" height="4.6" fill="#000"/>
<rect x="759.8" y="182.5" width="4.6" height="4.6" fill="#000"/>
<rect x="580.5" y="34.7" width="195.2" height="140.6" fill="none" stroke="#333" stroke-width="1.05"/>
<rect x="580.5" y="175.3" width="195.2" height="140.2" fill="none" stroke="#333" stroke-width="1.05"/>
<rect x="643.1" y="257.3" width="133.2" height="57.8" fill="#fff" stroke="#333" stroke-width="0.8"/>
<text x="656" y="270.2" font-size="6.6" text-anchor="start" letter-spacing="-0.3">Data: +8-Br-cGMP</text>
<text x="656" y="276.6" font-size="6.6" text-anchor="start" letter-spacing="-0.3">Model: OneSites</text>
<text x="656" y="282.9" font-size="6.6" text-anchor="start" letter-spacing="-0.3">Chi^2/DoF = 8.251E6</text>
<text x="656" y="288.8" font-size="6.6" text-anchor="start" letter-spacing="-0.3">N:</text>
<text x="673" y="288.8" font-size="6.6" text-anchor="start" letter-spacing="-0.3">4.62E-4± 10.0653Sites</text>
<text x="656" y="295.8" font-size="6.6" text-anchor="start" letter-spacing="-0.3">K</text>
<text x="673" y="295.8" font-size="6.6" text-anchor="start" letter-spacing="-0.3">3.45E5± 4.34E4 /M</text>
<text x="656" y="302.2" font-size="6.6" text-anchor="start" letter-spacing="-0.3">ΔH</text>
<text x="673" y="302.2" font-size="6.6" text-anchor="start" letter-spacing="-0.3">-2.488E10± 3.809E14 cal/mol</text>
<text x="656" y="308.8" font-size="6.6" text-anchor="start" letter-spacing="-0.3">ΔS</text>
<text x="673" y="308.8" font-size="6.6" text-anchor="start" letter-spacing="-0.3">-8.34E7 cal/mol/deg</text>
<text x="653.8" y="348.5" font-size="11" text-anchor="start" letter-spacing="-0.13">Molar Ratio</text>
<text x="539.5" y="123.3" font-size="11" text-anchor="middle" transform="rotate(-90 539.5 123.3)">µcal/sec</text>
<text x="536.8" y="261.7" font-size="11" text-anchor="middle" transform="rotate(-90 536.8 261.7)">kcal/mol of injectant</text>
</svg></body></html>
